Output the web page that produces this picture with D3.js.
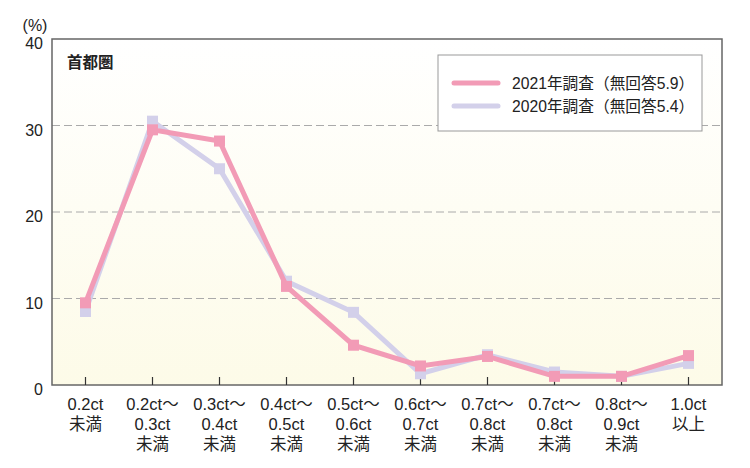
<!DOCTYPE html>
<html><head><meta charset="utf-8">
<script src="https://cdn.jsdelivr.net/npm/d3@7"></script>
<style>
body{margin:0;background:#fff;}
text{font-family:"Liberation Sans","Noto Sans CJK JP",sans-serif;fill:#222;}
</style></head>
<body><svg id="c" width="750" height="468"></svg>
<script>
const categories = [["0.2ct","未満"],["0.2ct〜","0.3ct","未満"],["0.3ct〜","0.4ct","未満"],["0.4ct〜","0.5ct","未満"],["0.5ct〜","0.6ct","未満"],["0.6ct〜","0.7ct","未満"],["0.7ct〜","0.8ct","未満"],["0.7ct〜","0.8ct","未満"],["0.8ct〜","0.9ct","未満"],["1.0ct","以上"]];
const values2021 = [9.5, 29.5, 28.2, 11.4, 4.6, 2.2, 3.3, 1.0, 1.0, 3.4];
const values2020 = [8.5, 30.5, 25.0, 12.0, 8.4, 1.3, 3.5, 1.5, 1.0, 2.5];
const yTicks = [0, 10, 20, 30, 40];
const seriesNames = ["2021年調査（無回答5.9）", "2020年調査（無回答5.4）"];
const colors = ["#f29bb6", "#d3d0ea"];

const svg = d3.select("#c");
const L = 52, R = 722, T = 39, B = 385;
const x = d3.scaleBand().domain(d3.range(categories.length)).range([L, R]);
const y = d3.scaleLinear().domain([0, 40]).range([B, T]);

const defs = svg.append("defs");
const g = defs.append("linearGradient").attr("id","bg").attr("x1",0).attr("y1",0).attr("x2",0).attr("y2",1);
g.append("stop").attr("offset","0%").attr("stop-color","#ffffff");
g.append("stop").attr("offset","100%").attr("stop-color","#fdfbe8");
svg.append("rect").attr("x",L).attr("y",T).attr("width",R-L).attr("height",B-T).attr("fill","url(#bg)");

// grid
svg.append("g").selectAll("line").data(yTicks.filter(d=>d>0 && d<40)).join("line")
  .attr("x1",L).attr("x2",R).attr("y1",d=>y(d)).attr("y2",d=>y(d))
  .attr("stroke","#aaa").attr("stroke-width",1).attr("stroke-dasharray","8,4");

// frame
svg.append("rect").attr("x",L).attr("y",T).attr("width",R-L).attr("height",B-T)
  .attr("fill","none").attr("stroke","#666").attr("stroke-width",1.5);

// y axis labels
const yAxis = d3.axisLeft(y).tickValues(yTicks).tickSize(0).tickPadding(9);
const ya = svg.append("g").attr("transform",`translate(${L},0)`).call(yAxis);
ya.select(".domain").remove();
ya.selectAll("text").attr("dy","0.62em").style("font-size","16px").style("font-family","Liberation Sans, sans-serif").style("fill","#222");
svg.append("text").attr("x",35).attr("y",31).attr("text-anchor","middle").style("font-size","16px").text("(%)");

// x ticks
const xa = svg.append("g").attr("transform",`translate(0,${B})`)
  .call(d3.axisBottom(x).tickSize(-8).tickFormat(""));
xa.select(".domain").remove();
xa.selectAll("line").attr("stroke","#333").attr("stroke-width",1.2);
// x labels
const xl = svg.append("g");
categories.forEach((lines,i)=>{
  const cx = x(i)+x.bandwidth()/2;
  const t = xl.append("text").attr("x", cx).attr("text-anchor","middle").style("font-size","16.5px");
  lines.forEach((s,j)=>t.append("tspan").attr("x", cx).attr("y", 410 + j*20).text(s));
});

// title
svg.append("text").attr("x",67).attr("y",68).style("font-size","15.5px").style("font-weight","bold").style("font-family","Noto Sans CJK JP").text("首都圏");

// series
const line = d3.line().x((d,i)=>x(i)+x.bandwidth()/2).y(d=>y(d));
[values2020, values2021].forEach((vals,k)=>{
  const c = k===0 ? colors[1] : colors[0];
  svg.append("path").datum(vals).attr("d",line).attr("fill","none").attr("stroke",c).attr("stroke-width",5).attr("stroke-linejoin","miter");
  svg.append("g").selectAll("rect").data(vals).join("rect")
    .attr("x",(d,i)=>x(i)+x.bandwidth()/2-5.5).attr("y",d=>y(d)-5.5).attr("width",11).attr("height",11).attr("fill",c);
});

// legend
const lg = svg.append("g");
lg.append("rect").attr("x",438).attr("y",55).attr("width",264).attr("height",76).attr("fill","#fff").attr("stroke","#999").attr("stroke-width",1);
seriesNames.forEach((n,i)=>{
  const yy = 83 + i*23;
  lg.append("line").attr("x1",454).attr("x2",498).attr("y1",yy).attr("y2",yy).attr("stroke",colors[i]).attr("stroke-width",5).attr("stroke-linecap","round");
  lg.append("text").attr("x",512).attr("y",yy+5.5).style("font-size","15.7px").text(n);
});
</script></body></html>
